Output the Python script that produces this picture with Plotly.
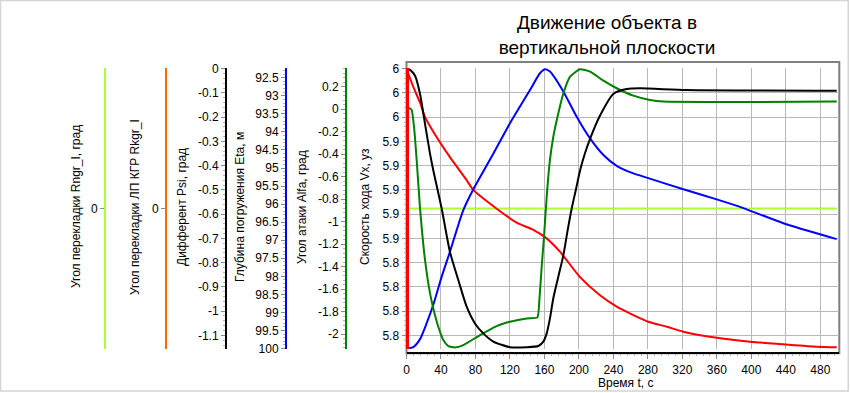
import plotly.graph_objects as go

# ---------------- data ----------------
# Скорость хода Vx, уз
t_vx = [0, 7.9, 15.7, 21.5, 31.1, 50.4, 69.8, 77.5, 104.6, 127.8, 147.1, 160.7,
        178.0, 201.3, 224.5, 243.8, 263.1, 280.5, 301.8, 321.1, 359.8, 398.5,
        437.1, 475.8, 499.0]
vx = [6.000, 5.985, 5.972, 5.960, 5.948, 5.927, 5.908, 5.900, 5.8845, 5.873,
      5.867, 5.861, 5.849, 5.828, 5.813, 5.8036, 5.7967, 5.7912, 5.7871, 5.783,
      5.778, 5.7747, 5.7726, 5.7706, 5.7701]

# Глубина погружения Eta, м
t_eta = [0, 7.9, 15.7, 23.4, 31.1, 40.8, 50.4, 58.2, 65.9, 77.5, 98.7, 120.0,
         143.2, 154.8, 160.7, 166.4, 182.0, 197.4, 212.9, 228.4, 243.8, 263.1,
         280.5, 321.1, 359.8, 390.7, 437.1, 499.0]
eta = [100.0, 99.96, 99.74, 99.30, 98.79, 98.01, 97.32, 96.72, 96.17, 95.59,
       94.69, 93.76, 92.84, 92.375, 92.265, 92.33, 92.885, 93.58, 94.18, 94.64,
       94.94, 95.15, 95.28, 95.59, 95.87, 96.11, 96.53, 96.97]

# Угол атаки Alfa, град
t_alfa = [0, 3.3, 6.0, 8.7, 11.8, 15.7, 21.5, 27.3, 31.1, 36.9, 42.7, 48.5,
          56.3, 65.9, 85.3, 104.6, 120.0, 139.4, 151.8, 154.1, 156.8, 159.5,
          162.6, 166.4, 170.3, 176.1, 182.0, 189.7, 201.3, 212.9, 228.4, 243.8,
          263.1, 282.4, 297.9, 499.0]
alfa = [0.0, 0.008, -0.007, -0.156, -0.452, -0.882, -1.342, -1.638, -1.772,
        -1.935, -2.054, -2.107, -2.119, -2.098, -2.009, -1.929, -1.891, -1.861,
        -1.852, -1.698, -1.401, -1.134, -0.779, -0.452, -0.245, -0.037, 0.141,
        0.289, 0.355, 0.333, 0.253, 0.186, 0.120, 0.082, 0.067, 0.067]

# Дифферент Psi, град
t_psi = [0, 4.1, 9.9, 15.7, 21.5, 27.3, 31.1, 40.8, 50.4, 60.1, 69.8, 79.4,
         89.1, 100.7, 120.0, 139.4, 153.0, 158.7, 162.6, 166.4, 170.3, 176.1,
         182.0, 186.6, 191.6, 196.7, 201.3, 207.1, 212.9, 224.5, 239.9, 255.4,
         270.9, 325.0, 499.0]
psi = [0.0, -0.005, -0.029, -0.104, -0.228, -0.351, -0.420, -0.577, -0.756,
       -0.872, -0.982, -1.051, -1.092, -1.126, -1.149, -1.149, -1.144, -1.126,
       -1.092, -1.030, -0.947, -0.858, -0.769, -0.673, -0.577, -0.495, -0.420,
       -0.348, -0.289, -0.193, -0.104, -0.084, -0.081, -0.088, -0.091]

# Угол перекладки Rngr_I и ЛП КГР Rkgr_I, град
t_rud = [0, 499.0]
rngr = [0, 0]
rkgr = [0, 0]

# tick values
vx_ticks = [6.00, 5.98, 5.96, 5.94, 5.92, 5.90, 5.88, 5.86, 5.84, 5.82, 5.80, 5.78]
psi_ticks = [0, -0.1, -0.2, -0.3, -0.4, -0.5, -0.6, -0.7, -0.8, -0.9, -1.0, -1.1]
eta_ticks = [92.5, 93, 93.5, 94, 94.5, 95, 95.5, 96, 96.5, 97, 97.5, 98, 98.5,
             99, 99.5, 100]
alfa_ticks = [0.2, 0, -0.2, -0.4, -0.6, -0.8, -1.0, -1.2, -1.4, -1.6, -1.8, -2.0]
rud_ticks = [0]

title_text = "Движение объекта в<br>вертикальной плоскости"
x_title = "Время t, с"
titles = {
    "rngr": "Угол перекладки Rngr_I, град",
    "rkgr": "Угол перекладки ЛП КГР Rkgr_I",
    "psi": "Дифферент Psi, град",
    "eta": "Глубина погружения Eta, м",
    "alfa": "Угол атаки Alfa, град",
    "vx": "Скорость хода Vx, уз",
}

# ---------------- layout helpers ----------------
W, H = 850, 393
FONT = "Liberation Sans, Arial, sans-serif"


def fx(p):
    return p / W


def fy(p):
    return 1 - p / H


DOM = [fy(349), fy(68)]
GRID = "#b8b8b8"
TICKC = "#8a8a8a"
MINC = "#b4b4b4"


def fmt(v):
    return f"{v:g}"


def side_axis(color, pos, rng, tickvals, ticktext, width=2, minor_dtick=None,
              minor_tick0=0, overlay=True, grid=False):
    ax = dict(
        domain=DOM, anchor="free", position=fx(pos), side="left",
        range=rng, tickmode="array", tickvals=tickvals, ticktext=ticktext,
        showline=True, linecolor=color, linewidth=width,
        ticks="outside", ticklen=4, tickcolor=TICKC, tickwidth=1,
        showgrid=grid, gridcolor=GRID, gridwidth=1, zeroline=False,
        tickfont=dict(family=FONT, size=12, color="black"),
        fixedrange=True, automargin=False,
    )
    if overlay:
        ax["overlaying"] = "y"
    if minor_dtick:
        ax["minor"] = dict(tickmode="linear", tick0=minor_tick0, dtick=minor_dtick,
                           ticks="outside", ticklen=2, tickcolor=MINC, showgrid=False)
    return ax


fig = go.Figure()

fig.add_trace(go.Scatter(x=t_rud, y=rkgr, yaxis="y", mode="lines",
                         line=dict(color="#ff6a00", width=1)))
fig.add_trace(go.Scatter(x=t_rud, y=rngr, yaxis="y2", mode="lines",
                         line=dict(color="#adff2f", width=2)))
fig.add_trace(go.Scatter(x=t_vx, y=vx, yaxis="y3", mode="lines",
                         line=dict(color="#ff0000", width=2, shape="spline", smoothing=0.6)))
fig.add_trace(go.Scatter(x=t_eta, y=eta, yaxis="y4", mode="lines",
                         line=dict(color="#0000ff", width=2, shape="spline", smoothing=0.6)))
fig.add_trace(go.Scatter(x=t_alfa, y=alfa, yaxis="y5", mode="lines",
                         line=dict(color="#008000", width=2, shape="spline", smoothing=0.5)))
fig.add_trace(go.Scatter(x=t_psi, y=psi, yaxis="y6", mode="lines",
                         line=dict(color="#000000", width=2, shape="spline", smoothing=0.6)))

fig.update_layout(
    width=W, height=H, autosize=False,
    margin=dict(l=0, r=0, t=0, b=0, autoexpand=False),
    paper_bgcolor="white", plot_bgcolor="rgba(0,0,0,0)",
    showlegend=False,
    font=dict(family=FONT, size=12, color="black"),
    title=dict(text=title_text, x=fx(607), xanchor="center", xref="paper",
               y=fy(29), yanchor="top", yref="paper", automargin=False,
               font=dict(family=FONT, size=19, color="black")),
    xaxis=dict(
        domain=[fx(406.5), fx(839.3)], range=[0, 502], anchor="free",
        position=fy(353.3), tickmode="linear", tick0=0, dtick=40,
        showline=True, linecolor="black", linewidth=2,
        ticks="outside", ticklen=5, tickcolor=TICKC,
        showgrid=True, gridcolor=GRID, gridwidth=1, zeroline=False,
        tickfont=dict(family=FONT, size=12, color="black"),
        minor=dict(tickmode="linear", tick0=0, dtick=8, ticks="outside",
                   ticklen=2, tickcolor=MINC, showgrid=False),
        fixedrange=True, automargin=False,
    ),
    yaxis=side_axis("#ff6a00", 166, [-1, 1], rud_ticks, [fmt(v) for v in rud_ticks],
                    overlay=False),
    yaxis2=side_axis("#adff2f", 105, [-1, 1], rud_ticks, [fmt(v) for v in rud_ticks]),
    yaxis3=side_axis("#ff0000", 406.5, [5.7687, 6.0006], vx_ticks,
                     [f"{v:.2g}" for v in vx_ticks], width=3, minor_dtick=0.004,
                     minor_tick0=5.78, grid=True),
    yaxis4=side_axis("#0000ff", 286, [100.014, 92.23], eta_ticks,
                     [fmt(v) for v in eta_ticks], minor_dtick=0.1, minor_tick0=92),
    yaxis5=side_axis("#008000", 346, [-2.133, 0.366], alfa_ticks,
                     [fmt(v) for v in alfa_ticks], minor_dtick=0.04, minor_tick0=0),
    yaxis6=side_axis("#000000", 226, [-1.1564, 0.003], psi_ticks,
                     [fmt(v) for v in psi_ticks], minor_dtick=0.02, minor_tick0=0),
)

# frame of the plotting area and the outer border
fig.add_shape(type="rect", xref="paper", yref="paper",
              x0=fx(406.5), x1=fx(839.3), y0=fy(353.3), y1=fy(62),
              line=dict(color="#808080", width=2), layer="below")
fig.add_shape(type="rect", xref="paper", yref="paper",
              x0=fx(0.5), x1=fx(848.3), y0=fy(391), y1=fy(0.5),
              line=dict(color="#d4d4d4", width=1.5), layer="below")

# axis titles
centers = {"rngr": 76, "rkgr": 135, "psi": 182, "eta": 240, "alfa": 302, "vx": 365}
for key, cx in centers.items():
    fig.add_annotation(text=titles[key], x=fx(cx), y=fy(207), xref="paper", yref="paper",
                       textangle=-90, showarrow=False, xanchor="center", yanchor="middle",
                       font=dict(family=FONT, size=12, color="black"))
fig.add_annotation(text=x_title, x=fx(625), y=fy(383), xref="paper", yref="paper",
                   showarrow=False, xanchor="center", yanchor="middle",
                   font=dict(family=FONT, size=12, color="black"))

fig.write_html(
    "out.html",
    config={"displayModeBar": False},
    post_script="document.body.style.margin='0px';document.body.style.overflow='hidden';",
)
